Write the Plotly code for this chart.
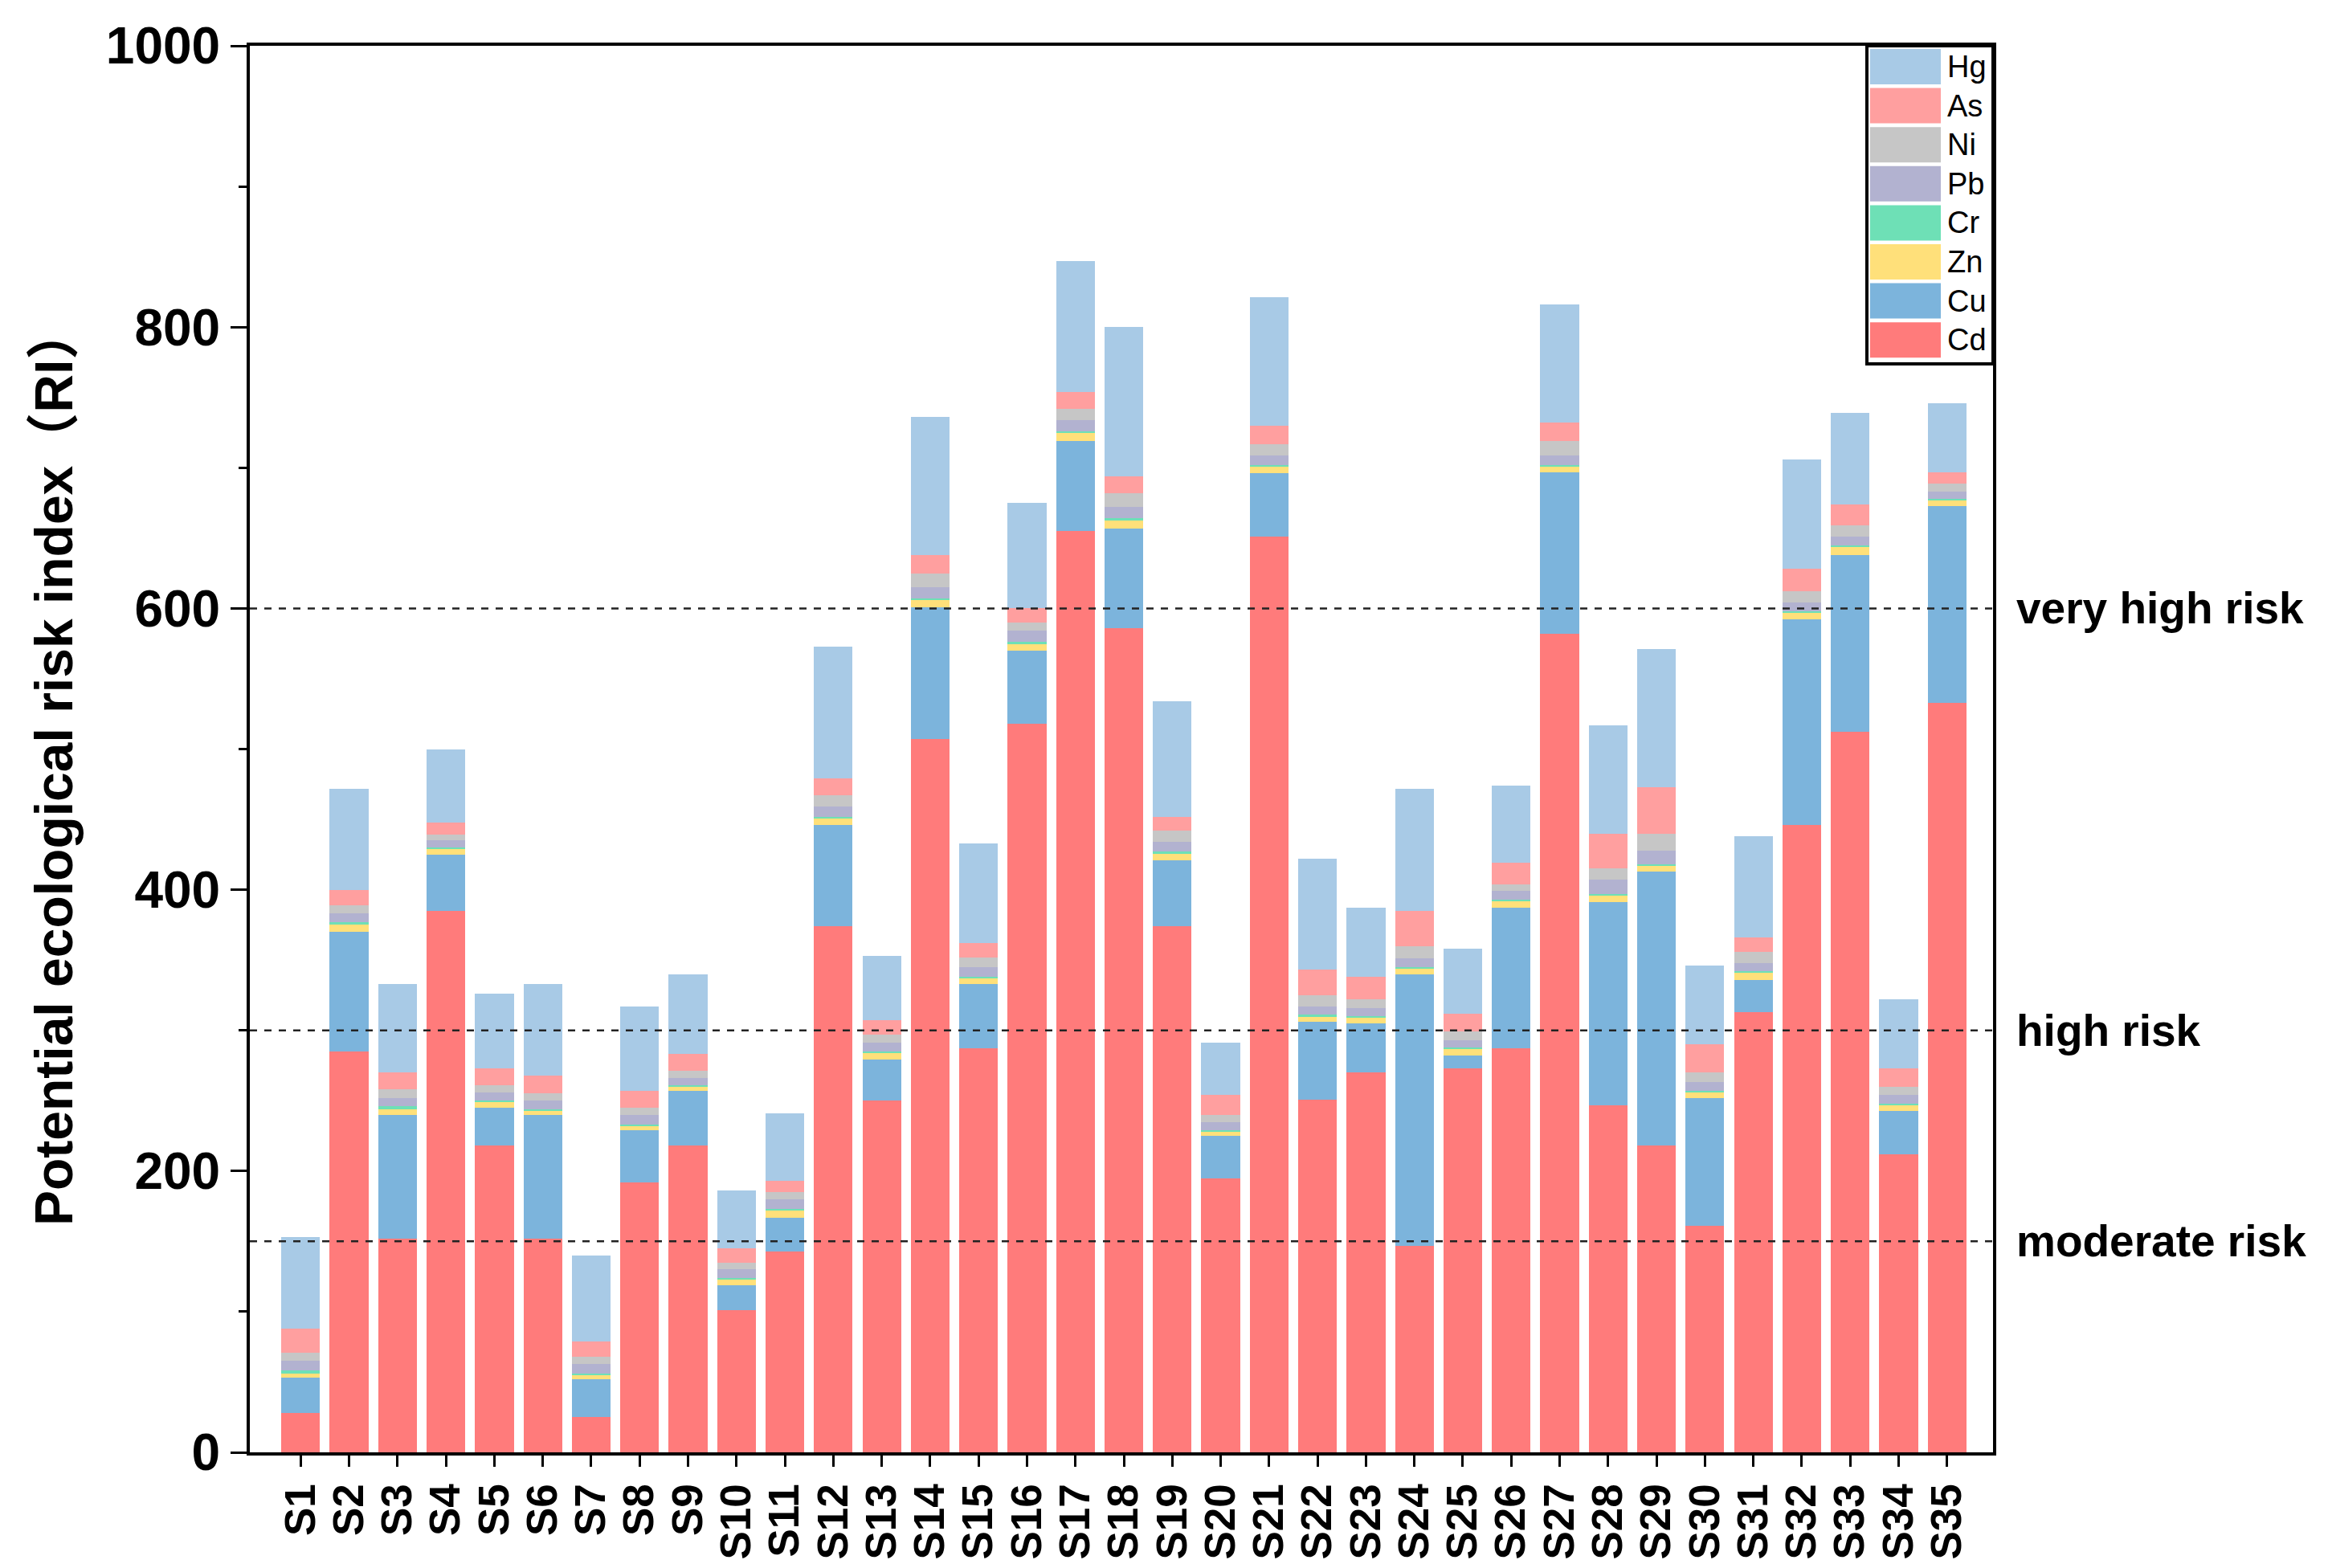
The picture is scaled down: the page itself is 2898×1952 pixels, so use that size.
import plotly.graph_objects as go

sites = [f"S{i}" for i in range(1, 36)]

Cd = [28, 285, 152, 385, 218, 152, 25, 192, 218, 101, 143, 374, 250, 507, 287, 518, 655, 586, 374, 195,
      651, 251, 270, 147, 273, 287, 582, 247, 218, 161, 313, 446, 512, 212, 533]
Cu = [25, 85, 88, 40, 27, 88, 27, 37, 39, 18, 24, 72, 29, 94, 46, 52, 64, 71, 47, 30,
      45, 55, 35, 193, 9, 100, 115, 144, 195, 91, 23, 146, 126, 31, 140]
Zn = [3, 5, 4, 4, 4, 3, 3, 3, 3, 4, 5, 5, 5, 5, 4, 5, 6, 6, 5, 3,
      5, 4, 4, 4, 5, 5, 4, 5, 4, 4, 5, 5, 6, 4, 4]
Cr = [2, 2, 2, 1, 1, 1, 1, 1, 1, 1, 1, 1, 1, 1, 1, 1, 1, 1, 1, 1,
      1, 1, 1, 1, 1, 1, 1, 1, 1, 1, 1, 1, 1, 1, 1]
Pb = [7, 6, 6, 5, 6, 6, 7, 7, 5, 6, 7, 7, 6, 8, 7, 8, 8, 8, 7, 6,
      7, 6, 6, 6, 5, 6, 7, 10, 10, 6, 6, 6, 6, 6, 5]
Ni = [6, 6, 6, 4, 5, 5, 5, 5, 5, 5, 5, 8, 6, 10, 7, 6, 8, 10, 8, 5,
      8, 8, 6, 9, 6, 5, 10, 8, 12, 7, 8, 8, 8, 6, 6]
As = [17, 11, 12, 9, 12, 13, 11, 12, 12, 10, 8, 12, 10, 13, 10, 10, 12, 12, 10, 14,
      13, 18, 16, 25, 13, 15, 13, 25, 33, 20, 10, 16, 15, 13, 8]
Hg = [65, 72, 63, 52, 53, 65, 61, 60, 57, 41, 48, 94, 46, 98, 71, 75, 93, 106, 82, 37,
      91, 79, 49, 87, 46, 55, 84, 77, 98, 56, 72, 78, 65, 49, 49]

series_names = ["Cd", "Cu", "Zn", "Cr", "Pb", "Ni", "As", "Hg"]
series_values = [Cd, Cu, Zn, Cr, Pb, Ni, As, Hg]
series_colors = ["#ff7b7b", "#7cb4dc", "#ffe07a", "#6ee0b6", "#b2b2d0", "#c6c6c6", "#ff9f9f", "#a8cae6"]

risk_levels = [600, 300, 150]
risk_labels = ["very high risk", "high risk", "moderate risk"]

FONT = "Arial, 'Liberation Sans', sans-serif"

# plot area geometry (pixels)
L, R, T, B = 303, 425, 49, 152
W, H = 2898, 1952
PW, PH = W - L - R, H - T - B

fig = go.Figure()
for name, vals, col in zip(series_names, series_values, series_colors):
    fig.add_trace(go.Bar(x=sites, y=vals, name=name, marker=dict(color=col, line=dict(width=0)),
                         showlegend=False))

# threshold lines and labels
for lvl, lab in zip(risk_levels, risk_labels):
    fig.add_shape(type="line", xref="paper", yref="y", x0=0, x1=1, y0=lvl, y1=lvl,
                  line=dict(color="#222222", width=2.5, dash="dash"), layer="above")
    fig.add_annotation(xref="paper", yref="paper", x=(2500 - L) / PW, y=lvl / 1000.0, text=lab,
                       showarrow=False, xanchor="left", yanchor="middle",
                       font=dict(family=FONT, size=55, color="black", weight="bold"))

# custom legend (top-right box)
fig.add_shape(type="rect", xref="paper", yref="paper", x0=(2316 - L) / PW, x1=1.0,
              y0=1 - 396 / PH, y1=1.0,
              line=dict(color="black", width=4), fillcolor="white", layer="above")
legend_order = list(range(len(series_names)))[::-1]
for i, idx in enumerate(legend_order):
    yc_px = 26 + 48.6 * i
    yc = 1 - yc_px / PH
    h = 22 / PH
    fig.add_shape(type="rect", xref="paper", yref="paper", x0=(2320 - L) / PW, x1=(2408 - L) / PW,
                  y0=yc - h, y1=yc + h, line=dict(width=0), fillcolor=series_colors[idx], layer="above")
    fig.add_annotation(xref="paper", yref="paper", x=(2414 - L) / PW, y=yc, text=series_names[idx],
                       showarrow=False, xanchor="left", yanchor="middle",
                       font=dict(family=FONT, size=38, color="black"))

# y-axis title
fig.add_annotation(xref="paper", yref="paper", x=(59 - L) / PW, y=(H - B - 946) / PH,
                   text="Potential ecological risk index（RI）", textangle=-90, showarrow=False,
                   xanchor="center", yanchor="middle",
                   font=dict(family=FONT + ", 'Noto Sans CJK SC'", size=66, color="black", weight="bold"))

fig.update_layout(
    width=W, height=H,
    barmode="stack", bargap=0.2,
    paper_bgcolor="white", plot_bgcolor="white",
    margin=dict(l=L, r=R, t=T, b=B),
    font=dict(family=FONT, color="black"),
)
fig.update_xaxes(
    range=[-1.05, 34.95], showline=True, linecolor="black", linewidth=4, mirror=True,
    tickmode="array", tickvals=sites, ticktext=sites,
    ticks="outside", ticklen=14, tickwidth=3, tickcolor="black", tickangle=-90,
    tickfont=dict(family=FONT, size=53, color="black", weight="bold"), showgrid=False,
)
fig.update_yaxes(
    range=[0, 1000], tickvals=[0, 200, 400, 600, 800, 1000], showline=True, linecolor="black",
    linewidth=4, mirror=True, ticks="outside", ticklen=20, tickwidth=3, tickcolor="black",
    minor=dict(tickvals=[100, 300, 500, 700, 900], ticks="outside", ticklen=10, tickwidth=3, tickcolor="black"),
    tickfont=dict(family=FONT, size=64, color="black", weight="bold"), showgrid=False, zeroline=False,
)

fig.write_html("out.html")
